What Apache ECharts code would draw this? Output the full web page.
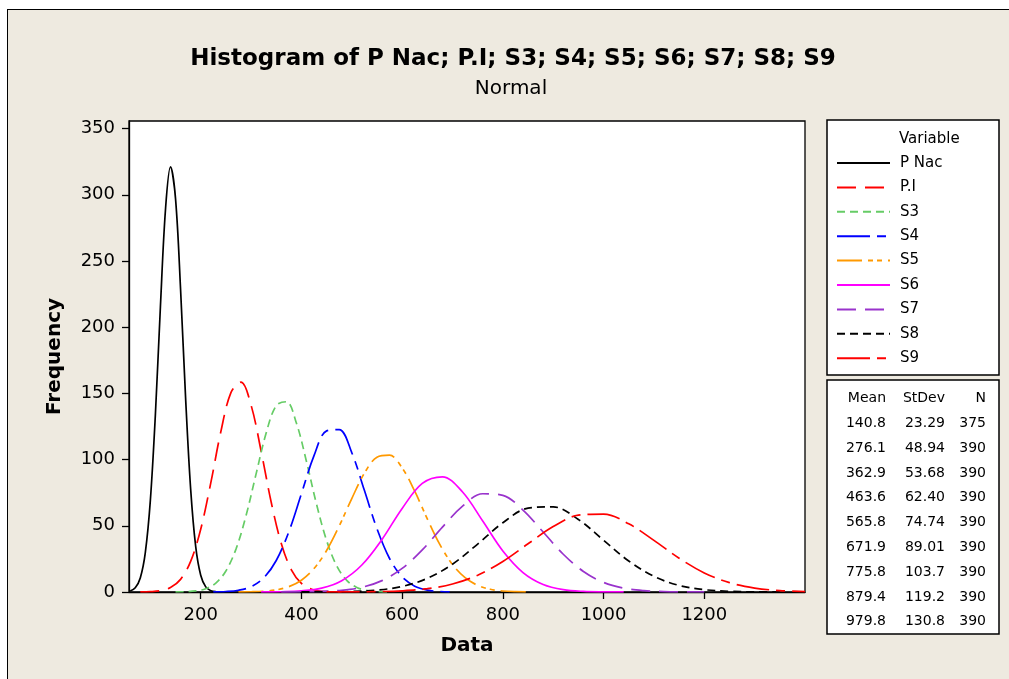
<!DOCTYPE html>
<html><head><meta charset="utf-8">
<script src="https://cdn.jsdelivr.net/npm/echarts@6/dist/echarts.min.js"></script>
<style>
html,body{margin:0;padding:0;background:#fff;width:1009px;height:679px;overflow:hidden}
#bg{position:absolute;left:7px;top:9px;width:1010px;height:680px;background:#EEEAE0;border-left:1.5px solid #000;border-top:1.5px solid #000}
#chart{position:absolute;left:0;top:0;width:1009px;height:679px}
</style></head><body>
<div id="bg"></div><div id="chart"></div>
<script>
// ---- data ----
const variableNames = ['P Nac', 'P.I', 'S3', 'S4', 'S5', 'S6', 'S7', 'S8', 'S9'];
const meanLabels  = ['140.8', '276.1', '362.9', '463.6', '565.8', '671.9', '775.8', '879.4', '979.8'];
const stdevLabels = ['23.29', '48.94', '53.68', '62.40', '74.74', '89.01', '103.7', '119.2', '130.8'];
const countLabels = ['375', '390', '390', '390', '390', '390', '390', '390', '390'];
const xTickValues = [200, 400, 600, 800, 1000, 1200];
const yTickValues = [0, 50, 100, 150, 200, 250, 300, 350];

const pNac = [[60,0.78],[70,3.16],[80,10.6],[90,29.8],[100,69.2],[110,134.0],[120,215.6],[130,288.5],[140,321.0],[150,297.1],[160,228.7],[170,146.4],[180,77.9],[190,34.5],[200,12.7],[210,3.89],[220,0.99],[230,0.21]];
const pI = [[80,0.05],[100,0.25],[120,0.98],[140,3.33],[160,9.53],[180,23.1],[200,47.4],[220,82.4],[240,121.1],[260,150.6],[280,158.5],[300,141.1],[320,106.3],[340,67.8],[360,36.6],[380,16.7],[400,6.45],[420,2.11],[440,0.58],[460,0.14],[480,0.03]];
const s3 = [[150,0.06],[170,0.23],[190,0.81],[210,2.51],[230,6.76],[250,15.9],[270,32.4],[290,57.6],[310,89.2],[330,120.1],[350,140.8],[370,143.7],[390,127.6],[410,98.6],[430,66.3],[450,38.9],[470,19.8],[490,8.79],[510,3.39],[530,1.14],[550,0.33],[570,0.08]];
const s4 = [[225,0.08],[250,0.36],[275,1.30],[300,4.01],[325,10.6],[350,23.8],[375,45.5],[400,74.2],[425,103.0],[450,121.7],[475,122.6],[500,105.2],[525,76.8],[550,47.8],[575,25.3],[600,11.4],[625,4.40],[650,1.44],[675,0.40],[700,0.10]];
const s5 = [[275,0.05],[300,0.19],[325,0.58],[350,1.61],[375,4.00],[400,8.89],[425,17.7],[450,31.3],[475,49.8],[500,70.6],[525,89.7],[550,101.8],[575,103.3],[600,93.7],[625,76.1],[650,55.2],[675,35.8],[700,20.8],[725,10.8],[750,4.99],[775,2.07],[800,0.77],[825,0.25],[850,0.08]];
const s6 = [[320,0.04],[360,0.19],[400,0.82],[440,2.93],[480,8.55],[520,20.4],[560,39.7],[600,63.1],[640,82.0],[680,87.0],[720,75.5],[760,53.6],[800,31.0],[840,14.7],[880,5.68],[920,1.80],[960,0.46],[1000,0.10],[1040,0.02]];
const s7 = [[360,0.02],[400,0.11],[440,0.40],[480,1.28],[520,3.58],[560,8.60],[600,17.8],[640,31.8],[680,49.0],[720,64.9],[760,74.2],[800,73.0],[840,61.9],[880,45.3],[920,28.5],[960,15.5],[1000,7.25],[1040,2.92],[1080,1.02],[1120,0.30],[1160,0.08],[1200,0.02]];
const s8 = [[400,0.02],[450,0.10],[500,0.41],[550,1.43],[600,4.18],[650,10.3],[700,21.0],[750,36.2],[800,52.3],[850,63.3],[900,64.3],[950,54.8],[1000,39.1],[1050,23.4],[1100,11.8],[1150,4.96],[1200,1.75],[1250,0.52],[1300,0.13],[1350,0.03]];
const s9 = [[450,0.02],[500,0.07],[550,0.27],[600,0.88],[650,2.48],[700,6.04],[750,12.7],[800,23.1],[850,36.4],[900,49.4],[950,58.0],[1000,58.8],[1050,51.5],[1100,39.0],[1150,25.5],[1200,14.4],[1250,7.04],[1300,2.97],[1350,1.08],[1400,0.34]];

// ---- styling ----
const curveData = [pNac, pI, s3, s4, s5, s6, s7, s8, s9];
const colors = ['#000000', '#FF0000', '#66CC66', '#0000FF', '#FF9900', '#FF00FF', '#9933CC', '#000000', '#FF0000'];
const dashes = ['solid', [19, 9], [8, 5], [33, 7, 9, 7], [25, 6, 5, 4, 5, 6], 'solid', [19, 9], [8, 5], [33, 7, 9, 7]];
const FONT = '"DejaVu Sans", "Liberation Sans", sans-serif';

const series = variableNames.map((name, i) => ({
  name: name,
  type: 'line',
  data: curveData[i],
  symbol: 'none',
  smooth: 0.35,
  lineStyle: { color: colors[i], width: 1.7, type: dashes[i] },
  itemStyle: { color: colors[i] },
  z: 3
}));

const graphics = [
  { type: 'rect', z: 0, shape: { x: 827, y: 120, width: 172, height: 255 }, style: { fill: '#fff', stroke: '#000', lineWidth: 1.5 } },
  { type: 'rect', z: 0, shape: { x: 827, y: 380, width: 172, height: 254 }, style: { fill: '#fff', stroke: '#000', lineWidth: 1.5 } },
  { type: 'text', z: 5, x: 513, y: 59, style: { text: 'Histogram of P Nac; P.I; S3; S4; S5; S6; S7; S8; S9', fill: '#000', font: 'bold 23px ' + FONT, align: 'center', verticalAlign: 'middle', textAlign: 'center', textVerticalAlign: 'middle' } },
  { type: 'text', z: 5, x: 511, y: 89, style: { text: 'Normal', fill: '#000', font: '20px ' + FONT, align: 'center', verticalAlign: 'middle', textAlign: 'center', textVerticalAlign: 'middle' } },
  { type: 'text', z: 5, x: 899, y: 139.5, style: { text: 'Variable', fill: '#000', font: '15px ' + FONT, align: 'left', verticalAlign: 'middle', textAlign: 'left', textVerticalAlign: 'middle' } }
];
const statHeaders = [['Mean', 886], ['StDev', 945], ['N', 986]];
statHeaders.forEach(h => graphics.push({ type: 'text', z: 5, x: h[1], y: 398.5, style: { text: h[0], fill: '#000', font: '14px ' + FONT, align: 'right', verticalAlign: 'middle', textAlign: 'right', textVerticalAlign: 'middle' } }));
meanLabels.forEach((m, i) => {
  const y = 423.3 + i * 24.8;
  [[m, 886], [stdevLabels[i], 945], [countLabels[i], 986]].forEach(c => graphics.push({
    type: 'text', z: 5, x: c[1], y: y,
    style: { text: c[0], fill: '#000', font: '14px ' + FONT, align: 'right', verticalAlign: 'middle', textAlign: 'right', textVerticalAlign: 'middle' }
  }));
});

const chart = echarts.init(document.getElementById('chart'), null, { renderer: 'canvas' });
chart.setOption({
  animation: false,
  backgroundColor: 'transparent',
  grid: { left: 129, top: 121, right: 204, bottom: 87, show: true, backgroundColor: '#fff', borderColor: '#000', borderWidth: 1.3 },
  legend: {
    data: variableNames, orient: 'vertical', left: 836, top: 155, padding: 0,
    itemWidth: 53, itemHeight: 14, itemGap: 8.4, selectedMode: false,
    itemStyle: { opacity: 0 },
    textStyle: { fontFamily: FONT, fontSize: 15, color: '#000', lineHeight: 16, padding: [0, 0, 0, 5] }
  },
  xAxis: {
    type: 'value', min: 57.6, max: 1400,
    name: 'Data', nameLocation: 'middle', nameGap: 44,
    nameTextStyle: { fontFamily: FONT, fontSize: 20, fontWeight: 'bold', color: '#000' },
    axisLine: { show: true, onZero: false, lineStyle: { color: '#000', width: 1.3 } },
    axisTick: { show: true, length: 7, lineStyle: { color: '#000', width: 1.3 }, customValues: xTickValues },
    axisLabel: { fontFamily: FONT, fontSize: 18, color: '#000', margin: 14, customValues: xTickValues, formatter: v => String(v) },
    splitLine: { show: false }
  },
  yAxis: {
    type: 'value', min: 0, max: 355.7,
    name: 'Frequency', nameLocation: 'middle', nameGap: 64, nameRotate: 90,
    nameTextStyle: { fontFamily: FONT, fontSize: 20, fontWeight: 'bold', color: '#000' },
    axisLine: { show: true, lineStyle: { color: '#000', width: 1.3 } },
    axisTick: { show: true, length: 7, lineStyle: { color: '#000', width: 1.3 }, customValues: yTickValues },
    axisLabel: { fontFamily: FONT, fontSize: 18, color: '#000', margin: 14, customValues: yTickValues, formatter: v => String(v) },
    splitLine: { show: false }
  },
  graphic: graphics,
  series: series
});
</script>
</body></html>
